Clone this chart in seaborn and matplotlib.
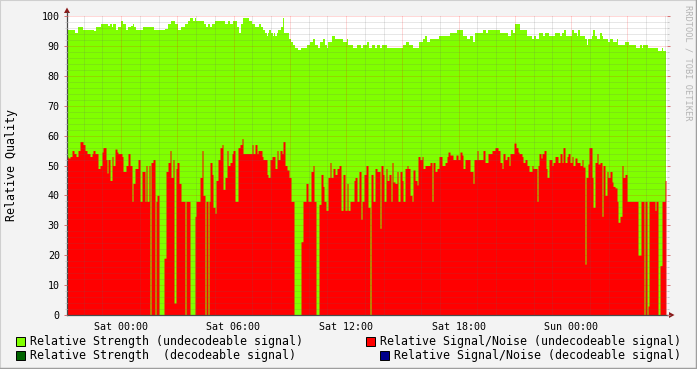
import numpy as np
import pandas as pd
import matplotlib
matplotlib.use("Agg")
import matplotlib.pyplot as plt
import seaborn as sns
from matplotlib.patches import Polygon, Rectangle
from matplotlib.lines import Line2D

# ---------------- data ----------------
# time series sampled every 3.2 minutes, first sample at Fri 21:07 (-2.88 h from Sat 00:00)
SAMPLE_MIN = 3.2
FIRST_SAMPLE_H = -2.88
N_SAMPLES = 599

# Relative Strength (undecodeable signal): run starts (sample index) and values
strength_start = [0, 8, 11, 16, 27, 29, 34, 41, 43, 45, 46, 49, 51, 54, 56, 59, 61, 64, 66, 67,
                  69, 76, 87, 98, 101, 104, 108, 111, 114, 118, 121, 123, 126, 128, 129, 137, 139, 141, 143, 145,
                  148, 158, 161, 163, 166, 170, 172, 174, 176, 182, 185, 188, 192, 194, 196, 198, 200, 201, 202, 204,
                  206, 207, 208, 210, 211, 214, 216, 217, 222, 224, 226, 228, 231, 234, 240, 243, 246, 248, 251, 253,
                  256, 258, 260, 261, 265, 268, 276, 280, 281, 286, 290, 294, 296, 300, 302, 305, 308, 310, 313, 315,
                  320, 336, 339, 342, 346, 352, 356, 358, 360, 363, 372, 383, 390, 396, 400, 403, 406, 408, 416, 419,
                  421, 433, 441, 444, 446, 448, 453, 460, 465, 467, 469, 472, 476, 478, 482, 488, 493, 495, 497, 499,
                  505, 507, 510, 511, 513, 518, 520, 521, 525, 526, 528, 530, 533, 535, 536, 541, 543, 546, 550, 551,
                  558, 562, 569, 573, 575, 576, 581, 591, 595, 596]
strength_val = [95.3, 94.4, 96.3, 95.3, 95.0, 96.3, 97.3, 96.8, 97.3, 96.3, 97.3, 95.3, 96.3, 98.3, 97.3, 95.3, 96.3, 96.8, 97.3, 96.3,
                95.3, 96.3, 95.3, 95.8, 97.3, 98.3, 97.3, 95.3, 96.3, 97.3, 98.3, 99.3, 98.3, 99.3, 98.3, 97.3, 96.3, 97.3, 96.3, 97.3,
                98.3, 97.3, 98.3, 97.3, 98.3, 96.3, 94.3, 97.3, 99.3, 98.3, 97.3, 96.3, 97.3, 96.3, 95.3, 94.3, 93.3, 94.3, 95.3, 94.3,
                93.3, 94.3, 93.3, 94.3, 95.3, 96.3, 99.3, 94.3, 92.3, 91.3, 90.3, 89.3, 88.6, 89.3, 90.3, 91.3, 92.3, 90.3, 89.3, 91.3,
                92.3, 90.3, 89.3, 91.3, 93.3, 92.3, 91.3, 92.3, 90.3, 89.3, 90.3, 89.3, 90.3, 91.3, 89.3, 90.3, 89.3, 90.3, 89.3, 90.3,
                89.3, 90.3, 91.3, 90.3, 89.3, 91.3, 92.3, 93.3, 91.3, 92.3, 93.3, 94.3, 95.3, 93.3, 92.3, 93.3, 91.3, 94.3, 95.3, 94.3,
                95.3, 94.3, 93.3, 95.3, 94.3, 97.3, 95.3, 93.3, 92.3, 93.3, 92.3, 94.3, 93.3, 94.3, 93.3, 94.3, 93.3, 94.3, 95.3, 93.3,
                95.3, 94.3, 93.3, 95.3, 93.3, 92.3, 90.3, 92.3, 93.3, 95.3, 93.3, 92.3, 94.3, 93.3, 92.3, 91.3, 92.3, 91.3, 92.3, 90.3,
                91.3, 90.3, 89.3, 90.3, 89.3, 90.3, 89.3, 88.3, 89.3, 88.3]

# Relative Signal/Noise (undecodeable signal): run starts (sample index) and values
snr_start = [0, 1, 3, 5, 7, 9, 11, 13, 16, 18, 20, 23, 25, 26, 28, 31, 33, 35, 36, 39,
             40, 41, 43, 45, 46, 48, 50, 51, 55, 56, 59, 61, 63, 65, 66, 68, 71, 73, 75, 78,
             79, 80, 82, 83, 84, 86, 88, 89, 90, 92, 97, 99, 101, 103, 104, 106, 107, 109, 110, 112,
             114, 118, 119, 123, 128, 129, 133, 135, 136, 138, 139, 141, 142, 143, 145, 146, 148, 149, 151, 153,
             155, 156, 158, 160, 161, 163, 165, 166, 168, 171, 173, 175, 176, 185, 186, 188, 190, 191, 195, 196,
             200, 201, 203, 205, 208, 210, 211, 213, 215, 216, 218, 220, 222, 224, 227, 234, 236, 239, 241, 244,
             246, 247, 249, 252, 254, 256, 257, 259, 261, 263, 264, 266, 268, 270, 272, 274, 276, 278, 280, 281,
             283, 287, 288, 290, 292, 294, 295, 297, 299, 301, 303, 304, 306, 308, 310, 313, 314, 316, 317, 319,
             320, 322, 324, 325, 326, 328, 330, 331, 333, 335, 336, 338, 340, 341, 343, 345, 346, 348, 350, 351,
             353, 355, 356, 358, 363, 365, 366, 368, 370, 372, 375, 378, 380, 381, 383, 386, 389, 391, 393, 395,
             396, 398, 403, 406, 407, 410, 411, 416, 418, 421, 425, 428, 431, 433, 435, 436, 438, 440, 442, 443,
             447, 449, 451, 452, 455, 456, 458, 460, 462, 465, 466, 470, 471, 472, 474, 475, 477, 479, 480, 482,
             485, 486, 488, 491, 493, 495, 496, 498, 500, 501, 503, 505, 506, 508, 510, 513, 515, 516, 518, 519,
             521, 522, 525, 526, 528, 530, 531, 533, 535, 536, 538, 540, 541, 543, 545, 546, 548, 550, 551, 553,
             555, 556, 558, 560, 571, 574, 577, 578, 580, 581, 582, 588, 589, 591, 593, 595, 598]
snr_val = [53, 52.5, 53, 55, 54, 53, 55, 58, 57, 55, 54, 53, 54, 55, 54, 49, 50, 54.5, 56, 52,
           47.5, 52, 45, 53, 50, 55.5, 54.5, 54, 53, 48, 50, 54, 50, 38, 44, 49, 52, 38, 48, 38,
           50, 38, 50, 0, 51, 52, 0, 38, 40, 0, 19, 48, 51, 55, 46, 52, 4, 49, 51, 44,
           38, 0, 38, 0, 33, 38, 46, 55, 40, 0, 38, 0, 38, 51, 47, 36, 34, 45, 52, 56,
           57, 42, 46, 55, 50, 51, 54, 55, 38, 56, 57, 59, 54, 57, 54, 57, 54, 55, 53, 52,
           47, 46, 52, 53, 49, 55, 52, 55, 54, 58, 50, 48.5, 46, 38, 0, 24.5, 38, 44, 38, 48,
           50, 38, 0, 37, 47, 43, 38, 35, 46, 51, 46, 49, 47, 49, 50, 35, 47, 35, 44, 35,
           38, 45, 46, 38, 48, 32, 38, 47, 50, 36, 0, 47, 38, 49, 48, 29, 50, 47, 38, 49,
           45, 47, 38, 51, 44.5, 44, 48, 38, 48, 45, 38, 49, 50, 49, 40, 38, 48.5, 45, 43.5, 53,
           52, 53, 49, 50, 51, 38, 51, 48, 49, 53, 50, 51, 53, 54.5, 53.5, 52, 53.5, 52, 54.5, 53.5,
           49, 52, 48, 44, 52, 55, 52, 55, 51, 54, 55, 56, 55, 51, 49, 54, 52, 53, 50, 54,
           57.5, 56, 54.5, 54, 53, 51, 52, 50, 48, 50, 49, 38, 50, 54, 52.5, 54, 55, 49, 46, 52,
           50, 51, 53, 51, 54, 51, 56, 51, 53, 54, 51, 53, 50, 52.5, 51, 50, 52, 49.5, 17, 46,
           50.5, 56, 46, 36, 51, 54, 50.5, 51, 33, 50, 40, 48, 46, 48, 44.5, 43, 42.5, 38, 31, 33,
           50, 46, 47, 38, 20, 38, 0, 38, 0, 3, 38, 35, 38, 0, 16.5, 38, 45]

tick_hours = [0, 6, 12, 18, 24]
tick_labels = ["Sat 00:00", "Sat 06:00", "Sat 12:00", "Sat 18:00", "Sun 00:00"]

legend_labels = ["Relative Strength (undecodeable signal)",
                 "Relative Signal/Noise (undecodeable signal)",
                 "Relative Strength  (decodeable signal)",
                 "Relative Signal/Noise (decodeable signal)"]
legend_colors = ["#80FF00", "#FF0000", "#006400", "#00008B"]

# ---------------- drawing ----------------
W, H = 697, 369
sns.set_style("white")
plt.rcParams['font.family'] = ['DejaVu Sans Mono', 'DejaVu Sans']

fig = plt.figure(figsize=(W / 100, H / 100), dpi=100, facecolor="#F3F3F3")
ax = fig.add_axes([67 / W, 1 - 315 / H, 600 / W, 299 / H])
ax.set_facecolor("white")


def edges_of(starts):
    idx = np.array(list(starts) + [N_SAMPLES], dtype=float)
    return FIRST_SAMPLE_H + idx * SAMPLE_MIN / 60.0


for starts, vals, col in [(strength_start, strength_val, legend_colors[0]),
                          (snr_start, snr_val, legend_colors[1])]:
    e = edges_of(starts)
    df = pd.DataFrame({"t": e[:-1], "v": np.asarray(vals, dtype=float)})
    sns.histplot(data=df, x="t", weights="v", bins=[float(b) for b in e], element="step", fill=True,
                 color=col, alpha=1.0, linewidth=0, ax=ax)

x_end = FIRST_SAMPLE_H + 600 * SAMPLE_MIN / 60.0
ax.set_xlim(FIRST_SAMPLE_H, x_end)
ax.set_ylim(0, 100)
ax.set_xlabel("")
ax.set_ylabel("")

# ticks / grid
major_x = np.arange(0.0, x_end, 3.0)
ax.set_xticks(major_x)
ax.set_xticklabels([tick_labels[tick_hours.index(int(h))] if int(h) in tick_hours else ""
                    for h in major_x])
ax.set_xticks(np.arange(-2.0, x_end, 1.0), minor=True)
ax.set_yticks(np.arange(0, 101, 10))
ax.set_yticks(np.arange(0, 101, 2), minor=True)

ax.set_axisbelow(False)
ax.grid(which="major", color="#FF0000", alpha=0.3, linestyle=(0, (1, 1)), linewidth=0.72)
ax.grid(which="minor", color="#666666", alpha=0.3, linestyle=(0, (1, 1)), linewidth=0.72)

ax.tick_params(axis="x", which="major", direction="out", length=2.2, width=0.72,
               color=(0.85, 0.45, 0.45), pad=3, labelsize=7.2, labelcolor="black")
ax.tick_params(axis="x", which="minor", length=0)
ax.tick_params(axis="y", which="major", direction="out", length=2.2, width=0.72,
               color=(0.85, 0.45, 0.45), pad=3, labelsize=7.2, labelcolor="black",
               left=True, right=True)
ax.tick_params(axis="y", which="minor", direction="out", length=1.5, width=0.72,
               color=(0.78, 0.78, 0.78), left=True, right=True)

for s in ["top", "right"]:
    ax.spines[s].set_visible(False)
for s in ["left", "bottom"]:
    ax.spines[s].set_color("#4a4a4a")
    ax.spines[s].set_linewidth(0.9)

# axis extensions and arrows
arrow_col = "#8B1A1A"
ax.plot([0, 0], [1, 1 + 4 / 299], transform=ax.transAxes, color="#4a4a4a", lw=0.9, clip_on=False)
ax.plot([1, 1 + 3 / 600], [0, 0], transform=ax.transAxes, color="#4a4a4a", lw=0.9, clip_on=False)
ax.add_patch(Polygon([(-3 / 600, 1 + 3 / 299), (3 / 600, 1 + 3 / 299), (0, 1 + 8.5 / 299)],
                     closed=True, transform=ax.transAxes, color=arrow_col, clip_on=False, lw=0))
ax.add_patch(Polygon([(1 + 2 / 600, -3 / 299), (1 + 2 / 600, 3 / 299), (1 + 7.5 / 600, 0)],
                     closed=True, transform=ax.transAxes, color=arrow_col, clip_on=False, lw=0))

# y label
fig.text(12 / W, 1 - 165 / H, "Relative Quality", rotation=90, ha="center", va="center",
         fontsize=8.4, color="black")

# credit text on the right
fig.text(688 / W, 1 - 5 / H, "RRDTOOL / TOBI OETIKER", rotation=270, ha="center", va="top",
         fontsize=6.2, color="#B4B4B4")

# legend
legend_pos = [(16, 341, 30), (366, 341, 380), (16, 355, 30), (380, 355, 394)]
for (bx, by, tx), lab, col in zip(legend_pos, legend_labels, legend_colors):
    fig.add_artist(Rectangle((bx / W, 1 - (by + 4.5) / H), 9 / W, 9 / H, transform=fig.transFigure,
                             facecolor=col, edgecolor="black", lw=0.7))
    fig.text(tx / W, 1 - by / H, lab, ha="left", va="center", fontsize=8.4, color="black")

# 3-D frame around the image
fig.add_artist(Line2D([0, 0], [0, 1], transform=fig.transFigure, color="#CFCFCF", lw=1.5))
fig.add_artist(Line2D([0, 1], [1, 1], transform=fig.transFigure, color="#CFCFCF", lw=1.5))
fig.add_artist(Line2D([1, 1], [0, 1], transform=fig.transFigure, color="#9E9E9E", lw=2.5))
fig.add_artist(Line2D([0, 1], [0, 0], transform=fig.transFigure, color="#9E9E9E", lw=2.5))

fig.savefig("out.png", dpi=100, facecolor=fig.get_facecolor())
